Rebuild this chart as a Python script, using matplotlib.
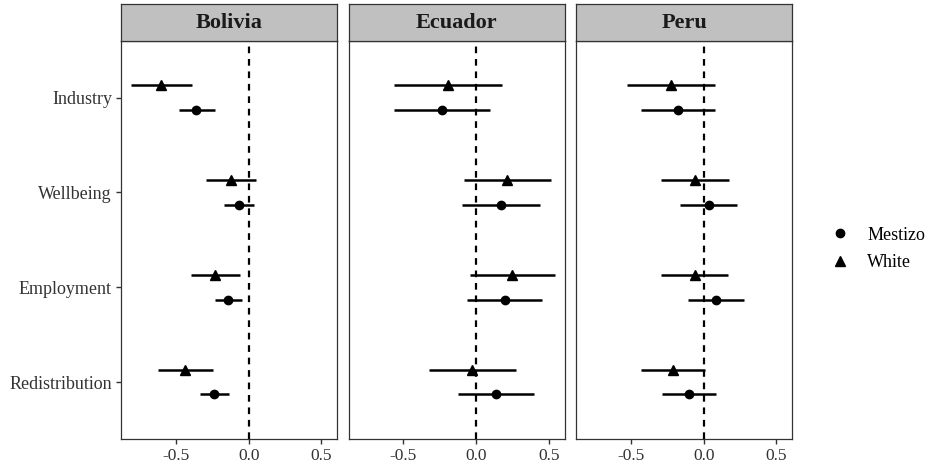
import matplotlib
matplotlib.use("Agg")
import matplotlib.pyplot as plt
from matplotlib.lines import Line2D

plt.rcParams["font.family"] = ["Liberation Serif", "DejaVu Serif"]

CATEGORIES = ["Industry", "Wellbeing", "Employment", "Redistribution"]
COUNTRIES = ["Bolivia", "Ecuador", "Peru"]

# estimates and interval ends, in CATEGORIES order
WHITE_EST = {
    "Bolivia": [-0.60, -0.12, -0.23, -0.436],
    "Ecuador": [-0.195, 0.215, 0.247, -0.027],
    "Peru": [-0.222, -0.057, -0.062, -0.213],
}
WHITE_LO = {
    "Bolivia": [-0.81, -0.296, -0.394, -0.62],
    "Ecuador": [-0.563, -0.085, -0.039, -0.327],
    "Peru": [-0.528, -0.291, -0.291, -0.431],
}
WHITE_HI = {
    "Bolivia": [-0.39, 0.053, -0.057, -0.248],
    "Ecuador": [0.18, 0.513, 0.54, 0.272],
    "Peru": [0.08, 0.177, 0.17, 0.007],
}
MESTIZO_EST = {
    "Bolivia": [-0.36, -0.069, -0.142, -0.236],
    "Ecuador": [-0.238, 0.169, 0.195, 0.137],
    "Peru": [-0.177, 0.034, 0.085, -0.099],
}
MESTIZO_LO = {
    "Bolivia": [-0.48, -0.167, -0.234, -0.337],
    "Ecuador": [-0.568, -0.096, -0.062, -0.124],
    "Peru": [-0.429, -0.163, -0.106, -0.284],
}
MESTIZO_HI = {
    "Bolivia": [-0.23, 0.034, -0.046, -0.135],
    "Ecuador": [0.094, 0.437, 0.453, 0.398],
    "Peru": [0.076, 0.227, 0.278, 0.087],
}

XTICKS = [-0.5, 0.0, 0.5]
XLIM = (-0.8775, 0.6075)
DODGE = 0.13
W, H = 934, 467
EDGE = "#333333"

fig = plt.figure(figsize=(W / 100, H / 100), dpi=100)

ypos = [len(CATEGORIES) - i for i in range(len(CATEGORIES))]
panel_left = [121, 348.5, 576]
panel_w = 216
top_px, strip_px, bottom_px = 4, 40.7, 439

for k, country in enumerate(COUNTRIES):
    x0 = panel_left[k] / W
    ax = fig.add_axes([x0, (H - bottom_px) / H, panel_w / W, (bottom_px - strip_px) / H])
    strip = fig.add_axes([x0, (H - strip_px) / H, panel_w / W, (strip_px - top_px) / H])

    ax.axvline(0, color="black", lw=1.6, ls=(0, (3, 2.6)), zorder=1)
    for est, lo, hi, marker, shift, label in [
        (MESTIZO_EST, MESTIZO_LO, MESTIZO_HI, "o", -DODGE, "Mestizo"),
        (WHITE_EST, WHITE_LO, WHITE_HI, "^", DODGE, "White"),
    ]:
        ys = [y + shift for y in ypos]
        ax.hlines(ys, lo[country], hi[country], color="black", lw=1.8, zorder=2)
        ax.plot(est[country], ys, ls="none", marker=marker, color="black",
                ms=6 if marker == "o" else 6.5, zorder=3, label=label)

    ax.set_xlim(*XLIM)
    ax.set_ylim(0.4, len(CATEGORIES) + 0.6)
    ax.set_xticks(XTICKS)
    ax.set_xticklabels([f"{v:.1f}" for v in XTICKS])
    ax.tick_params(axis="x", length=3.5, width=1, color=EDGE, labelsize=12.5,
                   labelcolor="#333333", pad=3)
    if k == 0:
        ax.set_yticks(ypos)
        ax.set_yticklabels(CATEGORIES)
        ax.tick_params(axis="y", length=3.5, width=1, color=EDGE, labelsize=13,
                       labelcolor="#333333", pad=3)
    else:
        ax.set_yticks([])
    for s in ax.spines.values():
        s.set_color(EDGE)
        s.set_linewidth(0.9)

    strip.set_facecolor("#c0c0c0")
    strip.set_xticks([])
    strip.set_yticks([])
    for s in strip.spines.values():
        s.set_color(EDGE)
        s.set_linewidth(0.9)
    strip.text(0.5, 0.47, country, transform=strip.transAxes, ha="center",
               va="center", fontsize=16, fontweight="bold", color="#1a1a1a")

handles = [
    Line2D([], [], ls="none", marker="o", color="black", ms=6),
    Line2D([], [], ls="none", marker="^", color="black", ms=6.5),
]
fig.legend(handles, ["Mestizo", "White"], loc="center left",
           bbox_to_anchor=(813 / W, (H - 249) / H), frameon=False,
           fontsize=13, handlelength=1.2, handletextpad=0.9, labelspacing=0.6)

fig.savefig("out.png", dpi=100)
